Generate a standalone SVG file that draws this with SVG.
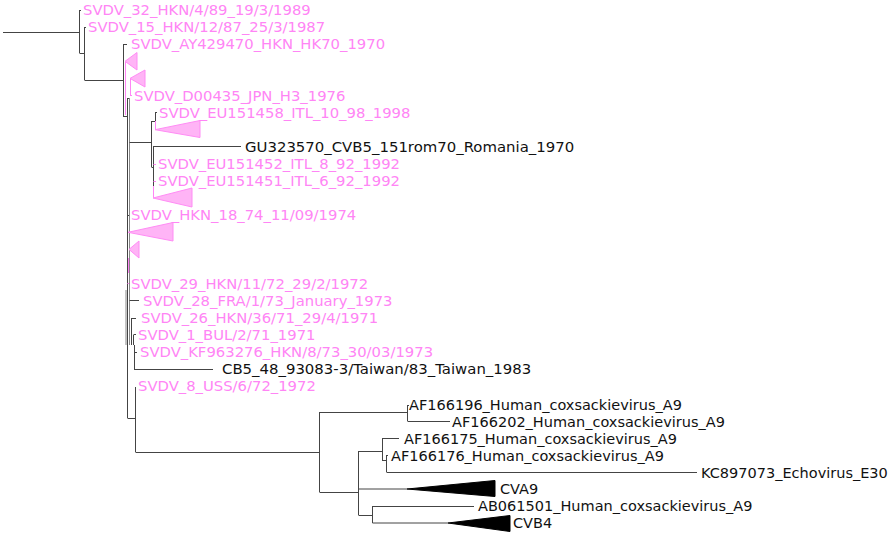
<svg xmlns="http://www.w3.org/2000/svg" width="890" height="536" viewBox="0 0 890 536">
<style>
text{font-family:"DejaVu Sans","Liberation Sans",sans-serif;font-size:14.5px}
.p{fill:#ff85f5;font-size:14.8px}
.k{fill:#111}
.w{font-size:14.9px}
.br{fill:none;stroke:#444;stroke-width:1}
.brl{fill:none;stroke:#888;stroke-width:1}
.bp{fill:none;stroke:#ff85f5;stroke-width:1}
.tp{fill:#ffb4f6;stroke:#ff8cf5;stroke-width:1}
.tk{fill:#000;stroke:#000;stroke-width:1}
</style>
<rect width="890" height="536" fill="#fff"/>
<g id="connectors">
<path class="br" d="M3,32.5H79.5M79.5,10V53M79.5,10.5H81M79.5,53.5H84.5M84.5,27V80M84.5,27.5H86M84.5,80.5H123.5M123.5,44V117M123.5,44.5H127M123.5,116.5H127.5"/>
<path class="br" d="M127.5,98V418M127.5,98.5H129.5"/>
<path class="brl" d="M129.5,98V345M126,290V345"/>
<path class="bp" d="M125.5,62V115M130.5,78V96M130.5,95.5H132"/>
<path class="br" d="M129.5,142.5H151.5M151.5,121V167M151.5,121.5H155.5M155.5,112V121M155.5,112.5H157M151.5,167.5H153.5M153.5,146V186M153.5,146.5H241"/>
<path class="bp" d="M155.5,121V129.7M153.5,164.5H156M153.5,181.5H156M153.5,186V198"/>
<path class="br" d="M127.5,215.5H129"/>
<path class="bp" d="M128.5,258V273M127.5,283.5H129"/>
<path class="br" d="M129.5,300.5H139M131.5,318V345M131.5,318.5H136M133.5,335V345M133.5,334.5H136M134.5,345V370M134.5,352.5H137M134.5,369.5H213"/>
<path class="br" d="M127.5,418.5H135.5M135.5,387V452M135.5,387.5H136M135.5,452.5H319.5"/>
<path class="br" d="M319.5,412V492M319.5,412.5H407.5M407.5,405V421M407.5,405.5H409M407.5,421.5H450M319.5,492.5H358.5M358.5,451V515M358.5,451.5H382.5M382.5,438V461M382.5,438.5H399M382.5,460.5H386.5M386.5,455V472M386.5,455.5H388M386.5,472.5H697M358.5,489H407M358.5,515.5H372.5M372.5,506V523M372.5,506.5H474M372.5,523H448"/>
</g>
<g id="clade_A"><polygon class="tp" points="125,61.3 137,52.5 137,70"/></g>
<g id="clade_B"><polygon class="tp" points="130,78.4 145,70 145,87"/></g>
<g id="clade_C"><polygon class="tp" points="155,129.7 200,120.5 200,137.5"/></g>
<g id="clade_D"><polygon class="tp" points="153,198 192,188 192,207"/></g>
<g id="clade_E"><polygon class="tp" points="128,232.3 173,222.5 173,241"/></g>
<g id="clade_F"><polygon class="tp" points="129,249.4 139,241 139,258"/></g>
<g id="clade_CVA9"><polygon class="tk" points="407,489 495,480.5 495,496.5"/><text class="k" x="500" y="494">CVA9</text></g>
<g id="clade_CVB4"><polygon class="tk" points="448,523 510,515.5 510,531.5"/><text class="k" x="513" y="528">CVB4</text></g>
<g id="t1"><text class="p" x="83" y="15">SVDV_32_HKN/4/89_19/3/1989</text></g>
<g id="t2"><text class="p" x="88" y="32">SVDV_15_HKN/12/87_25/3/1987</text></g>
<g id="t3"><text class="p" x="131" y="49">SVDV_AY429470_HKN_HK70_1970</text></g>
<g id="t4"><text class="p" x="134" y="100.5">SVDV_D00435_JPN_H3_1976</text></g>
<g id="t5"><text class="p" x="159" y="117.5">SVDV_EU151458_ITL_10_98_1998</text></g>
<g id="t6"><text class="k w" x="245" y="152">GU323570_CVB5_151rom70_Romania_1970</text></g>
<g id="t7"><text class="p" x="158" y="169">SVDV_EU151452_ITL_8_92_1992</text></g>
<g id="t8"><text class="p" x="158" y="186">SVDV_EU151451_ITL_6_92_1992</text></g>
<g id="t9"><text class="p" x="131" y="220">SVDV_HKN_18_74_11/09/1974</text></g>
<g id="t10"><text class="p" x="131" y="288.5">SVDV_29_HKN/11/72_29/2/1972</text></g>
<g id="t11"><text class="p" x="143" y="305.5">SVDV_28_FRA/1/73_January_1973</text></g>
<g id="t12"><text class="p" x="141" y="322.5">SVDV_26_HKN/36/71_29/4/1971</text></g>
<g id="t13"><text class="p" x="138" y="339.5">SVDV_1_BUL/2/71_1971</text></g>
<g id="t14"><text class="p" x="140" y="357">SVDV_KF963276_HKN/8/73_30/03/1973</text></g>
<g id="t15"><text class="k w" x="222" y="374">CB5_48_93083-3/Taiwan/83_Taiwan_1983</text></g>
<g id="t16"><text class="p" x="138" y="391">SVDV_8_USS/6/72_1972</text></g>
<g id="t17"><text class="k" x="409" y="410">AF166196_Human_coxsackievirus_A9</text></g>
<g id="t18"><text class="k" x="452" y="427">AF166202_Human_coxsackievirus_A9</text></g>
<g id="t19"><text class="k" x="404" y="443.5">AF166175_Human_coxsackievirus_A9</text></g>
<g id="t20"><text class="k" x="391" y="460.5">AF166176_Human_coxsackievirus_A9</text></g>
<g id="t21"><text class="k" x="701" y="477.5">KC897073_Echovirus_E30</text></g>
<g id="t22"><text class="k" x="478" y="511">AB061501_Human_coxsackievirus_A9</text></g>
</svg>
